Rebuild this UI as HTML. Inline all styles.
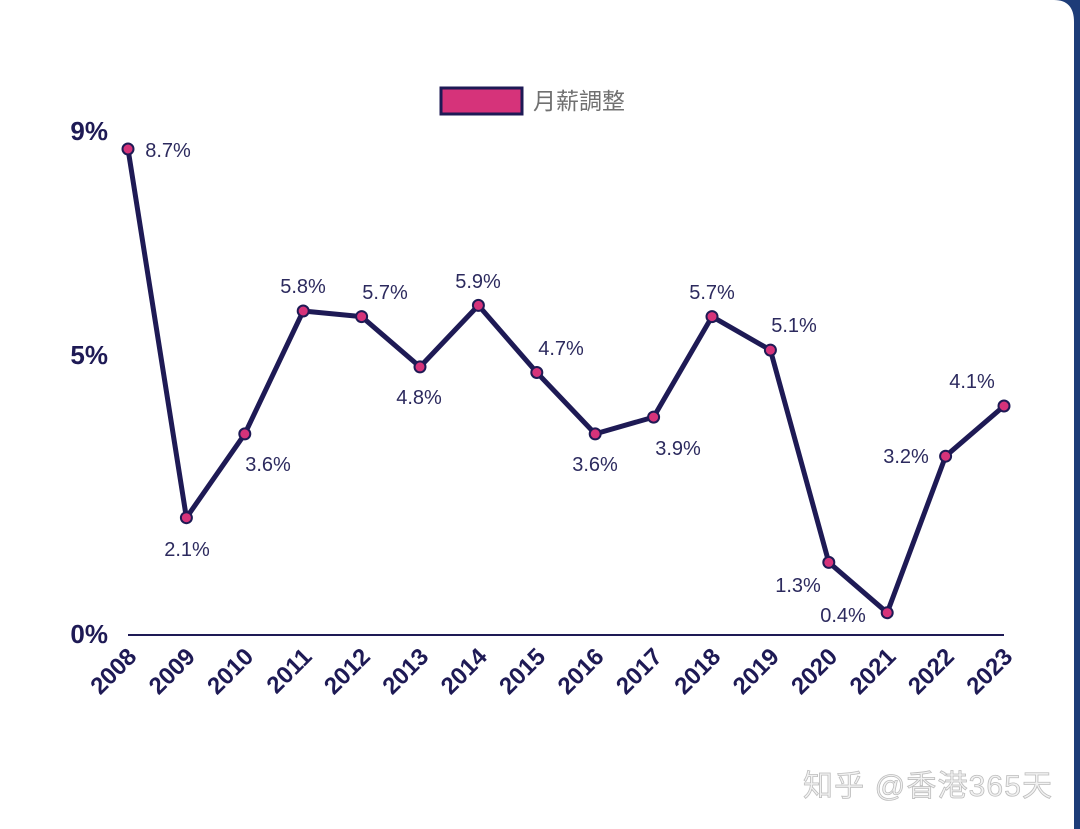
<!DOCTYPE html>
<html><head><meta charset="utf-8"><style>
html,body{margin:0;padding:0;background:#fff;}
svg{display:block;}
</style></head><body>
<svg width="1080" height="829" viewBox="0 0 1080 829" xmlns="http://www.w3.org/2000/svg">
<rect x="0" y="0" width="1080" height="829" fill="#fff"/>
<path d="M1054 0 Q1074 0 1074 22 L1074 829 L1080 829 L1080 0 Z" fill="#1d3c78"/>
<rect x="441" y="88" width="81" height="26" fill="#d6337a" stroke="#1e1a55" stroke-width="3"/>
<text x="533" y="109" font-family="Liberation Sans, Noto Sans CJK TC, sans-serif" font-size="23" fill="#707070">月薪調整</text>
<g font-family="Liberation Sans, sans-serif" font-weight="bold" font-size="26" fill="#1e1a55" text-anchor="end">
<text x="108" y="140">9%</text>
<text x="108" y="364">5%</text>
<text x="108" y="643">0%</text>
</g>
<line x1="128" y1="635" x2="1004" y2="635" stroke="#1e1a55" stroke-width="2"/>
<g font-family="Liberation Sans, sans-serif" font-weight="bold" font-size="24" fill="#1e1a55" text-anchor="end">
<text transform="translate(138,658) rotate(-45)">2008</text>
<text transform="translate(196.4,658) rotate(-45)">2009</text>
<text transform="translate(254.8,658) rotate(-45)">2010</text>
<text transform="translate(313.2,658) rotate(-45)">2011</text>
<text transform="translate(371.6,658) rotate(-45)">2012</text>
<text transform="translate(430,658) rotate(-45)">2013</text>
<text transform="translate(488.4,658) rotate(-45)">2014</text>
<text transform="translate(546.8,658) rotate(-45)">2015</text>
<text transform="translate(605.2,658) rotate(-45)">2016</text>
<text transform="translate(663.6,658) rotate(-45)">2017</text>
<text transform="translate(722,658) rotate(-45)">2018</text>
<text transform="translate(780.4,658) rotate(-45)">2019</text>
<text transform="translate(838.8,658) rotate(-45)">2020</text>
<text transform="translate(897.2,658) rotate(-45)">2021</text>
<text transform="translate(955.6,658) rotate(-45)">2022</text>
<text transform="translate(1014,658) rotate(-45)">2023</text>
</g>
<polyline fill="none" stroke="#1e1a55" stroke-width="5" stroke-linejoin="round" points="128,149 186.4,517.7 244.8,433.9 303.2,311 361.6,316.6 420,366.9 478.4,305.4 536.8,372.5 595.2,433.9 653.6,417.1 712,316.6 770.4,350.1 828.8,562.4 887.2,612.7 945.6,456.2 1004,406"/>
<g fill="#d6337a" stroke="#1e1a55" stroke-width="2">
<circle cx="128" cy="149" r="5.5"/><circle cx="186.4" cy="517.7" r="5.5"/><circle cx="244.8" cy="433.9" r="5.5"/><circle cx="303.2" cy="311" r="5.5"/><circle cx="361.6" cy="316.6" r="5.5"/><circle cx="420" cy="366.9" r="5.5"/><circle cx="478.4" cy="305.4" r="5.5"/><circle cx="536.8" cy="372.5" r="5.5"/><circle cx="595.2" cy="433.9" r="5.5"/><circle cx="653.6" cy="417.1" r="5.5"/><circle cx="712" cy="316.6" r="5.5"/><circle cx="770.4" cy="350.1" r="5.5"/><circle cx="828.8" cy="562.4" r="5.5"/><circle cx="887.2" cy="612.7" r="5.5"/><circle cx="945.6" cy="456.2" r="5.5"/><circle cx="1004" cy="406" r="5.5"/>
</g>
<g font-family="Liberation Sans, sans-serif" font-size="20" fill="#2c2a5e" text-anchor="middle">
<text x="168" y="157">8.7%</text>
<text x="187" y="556">2.1%</text>
<text x="268" y="471">3.6%</text>
<text x="303" y="293">5.8%</text>
<text x="385" y="299">5.7%</text>
<text x="419" y="404">4.8%</text>
<text x="478" y="288">5.9%</text>
<text x="561" y="355">4.7%</text>
<text x="595" y="471">3.6%</text>
<text x="678" y="455">3.9%</text>
<text x="712" y="299">5.7%</text>
<text x="794" y="332">5.1%</text>
<text x="798" y="592">1.3%</text>
<text x="843" y="622">0.4%</text>
<text x="906" y="463">3.2%</text>
<text x="972" y="388">4.1%</text>
</g>
<text x="803" y="796" font-family="Liberation Sans, Noto Sans CJK SC, sans-serif" font-size="30" fill="#f2f2f2" stroke="#bdbdbd" stroke-width="0.8" textLength="249">知乎 @香港365天</text>
</svg>
</body></html>
